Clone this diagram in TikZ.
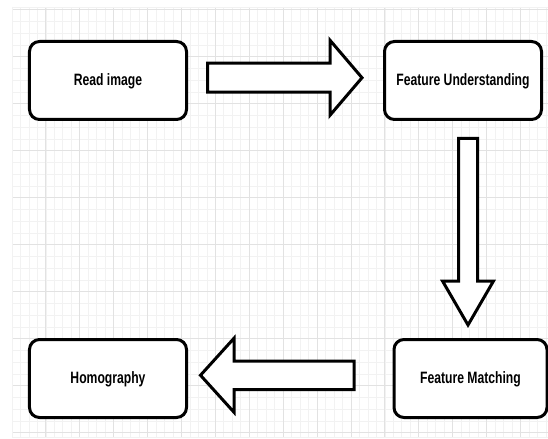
\documentclass[tikz,border=0pt]{standalone}
\usepackage{fontspec}
\newfontfamily\labelfont[FakeStretch=0.74]{Liberation Sans}
\usetikzlibrary{positioning,calc}
\definecolor{gridmajor}{HTML}{E2E2E2}
\definecolor{gridminor}{HTML}{F2F2F2}
\tikzset{
 stagebox/.style={rectangle, draw=black, fill=white, rounded corners=10bp,
 line width=3bp, minimum width=157bp, minimum height=78bp, inner sep=0pt,
 text height=11bp, text depth=1bp,
 font=\labelfont\bfseries\fontsize{16.5}{19}\selectfont},
 bigarrow/.style={draw=black, fill=white, line width=3bp, miter limit=10},
 minorline/.style={draw=gridminor, line width=0.8bp},
 majorline/.style={draw=gridmajor, line width=1bp},
}
\begin{document}
\begin{tikzpicture}[x=1bp, y=-1bp]
\useasboundingbox (0,0) rectangle (548,439);

% background grid
\foreach \i in {0,...,63}
  \draw[minorline] ({12+\i*8.475},7) -- ({12+\i*8.475},437);
\foreach \j in {0,...,36}
  \draw[minorline] (12,{9.7+\j*11.75}) -- (548,{9.7+\j*11.75});
\foreach \i in {0,...,15}
  \draw[majorline] ({12+\i*33.9},7) -- ({12+\i*33.9},437);
\foreach \j in {0,...,9}
  \draw[majorline] (12,{9.7+\j*47}) -- (548,{9.7+\j*47});
\draw[minorline] (12,7) rectangle (548,437);

% stages
\node[stagebox] (read) at (108,80.5) {Read image};
\node[stagebox, right=195bp of read] (under) {Feature Understanding};
\node[stagebox, below=217bp of read] (homog) {Homography};
\node[stagebox, minimum width=153bp] (match) at (470.5,378.5) {Feature Matching};

% block arrows
\coordinate (a1) at ($(read.east)+(19.5,-2.75)$);
\coordinate (a2) at ($(under.south)+(5,17.5)$);
\coordinate (a3) at ($(match.west)+(-38.5,-3.25)$);
\foreach \p/\a/\l/\h/\s/\w in {a1/0/154.5/32/14.5/37.5,
                                a2/-90/186.5/44/9.5/25.5,
                                a3/180/153.5/33.5/14.25/37}
{
  \begin{scope}[shift={(\p)}, rotate=\a]
    \draw[bigarrow] (0,-\s) -- ({\l-\h},-\s) -- ({\l-\h},-\w) -- (\l,0)
      -- ({\l-\h},\w) -- ({\l-\h},\s) -- (0,\s) -- cycle;
  \end{scope}
}

\end{tikzpicture}
\end{document}
